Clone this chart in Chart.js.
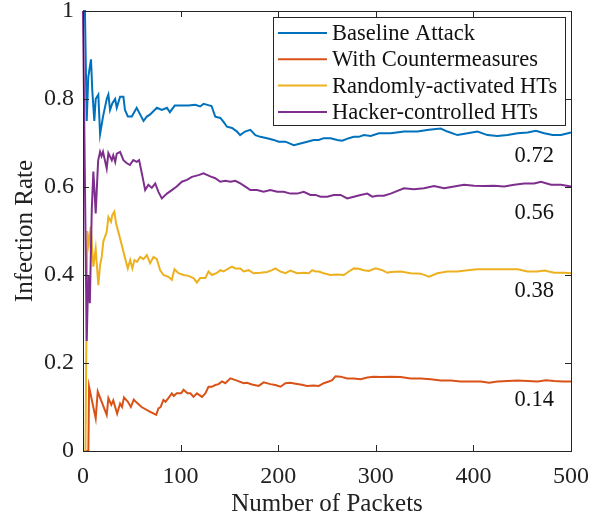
<!DOCTYPE html>
<html>
<head>
<meta charset="utf-8">
<title>Infection Rate vs Number of Packets</title>
<script src="https://cdn.jsdelivr.net/npm/chart.js@4"></script>
<style>
  html, body { margin: 0; padding: 0; background: #fff; }
  #wrap { width: 603px; height: 519px; }
</style>
</head>
<body>
<div id="wrap"><canvas id="rateChart"></canvas></div>
<script>
// Infection rate over packets for four scenarios
const SERIES_NAMES = ["Baseline Attack", "With Countermeasures", "Randomly-activated HTs", "Hacker-controlled HTs"];
const SERIES_COLORS = ["#0072BD", "#D95319", "#EDB120", "#7E2F8E"];

const baselineX = [0,2,3.8,5.4,8.2,9.5,11.6,13,15.7,17.5, 20.5,24.3,26,27.7,30,32.9,34.6,38,41.4,43,
  46,50,55,58.5,62,65.4,68.8,75.7,80.8,86, 89,94,101,108,115,120,123.5,128.3,131.7,135.5,
  140.7,144,147.5,152.7,157.8,161,166,171.5,176.6,181.7, 188.6,195.4,200.5,207.4,216,222.8,229.7,236.4,241.6,246.7,
  253.6,260.5,265.6,272.4,277.5,282.6,287.8,294.7,303.2,315.2, 329,342.6,354.5,366.5,373.4,383.7,394,404.2,414.4,424.7,
  435,445.3,455.5,464,472.6,481.2,489.7,500];
const baselineY = [1,1,0.75,0.85,0.89,0.82,0.75,0.80,0.81,0.72, 0.76,0.80,0.81,0.775,0.79,0.80,0.78,0.805,0.805,0.775,
  0.76,0.76,0.78,0.765,0.75,0.76,0.765,0.78,0.775,0.78, 0.77,0.785,0.785,0.785,0.787,0.783,0.789,0.786,0.784,0.76,
  0.757,0.748,0.737,0.734,0.726,0.718,0.726,0.73,0.718,0.714, 0.711,0.707,0.703,0.703,0.695,0.699,0.703,0.707,0.707,0.711,
  0.711,0.707,0.705,0.711,0.714,0.714,0.718,0.716,0.722,0.722, 0.726,0.726,0.73,0.733,0.726,0.718,0.722,0.726,0.718,0.716,
  0.718,0.722,0.724,0.728,0.722,0.718,0.718,0.724];

const counterX = [0,5.5,6.2,13,15.1,24.3,26,29,31, 35,38,40,42,46,49,52,55,60,68,
  75,77.3,79.5,82.4,84.5,87.5,91,93,96,100.6, 103,107,110,113.2,116.7,121.9,125.3,128.6,132.1,135.5,
  138.9,142.4,145.8,151,157.8,164.6,168,173.2,180,185.1, 192,197.1,202.3,207.4,212.5,217.7,222.8,229.7,236.4,241.6,
  246.7,251.8,255.3,258.7,263.9,270.7,277.5,284.4,291.3,298, 305,315.2,325.5,335.7,346,356.3,366.5,376.8,387,397.3,
  407.6,416.1,424.7,435,445.3,455.5,465.8,474.3,482.9,491.5, 500];
const counterY = [0,0,0.146,0.074,0.135,0.082,0.12,0.105,0.115, 0.085,0.108,0.10,0.122,0.112,0.10,0.117,0.11,0.10,0.09,
  0.082,0.097,0.10,0.116,0.112,0.12,0.131,0.125,0.131,0.131, 0.139,0.131,0.131,0.123,0.131,0.123,0.131,0.146,0.146,0.15,
  0.152,0.158,0.154,0.165,0.16,0.154,0.155,0.151,0.148,0.156, 0.152,0.15,0.146,0.154,0.155,0.153,0.151,0.148,0.149,0.148,
  0.154,0.158,0.161,0.17,0.169,0.165,0.165,0.163,0.167,0.169, 0.168,0.169,0.168,0.165,0.165,0.163,0.16,0.16,0.158,0.158,
  0.158,0.155,0.158,0.159,0.16,0.159,0.158,0.161,0.159,0.158, 0.158];

const randomX = [0,2.5,4.4,6,8,10.6,13,15.7,17.5,19.2, 20.8,24.3,26,28.7,30,32.1,33.9,36.2,39.7,43.1,
  45.9,48.3,50.6,52.7,55.4,58.5,61.9,65.4,68.8,72.2, 75.7,79,82.4,87.6,91,93.7,97.8,103,108,113.2,
  116.7,120,125.3,128.6,132.1,137.3,140.7,144,149.2,152.7, 156,161.2,164.6,169.7,174.8,181.7,188.6,193.7,197.1,202.3,
  207.4,212.5,219.4,226.2,231.4,234.8,238.2,241.6,246.7,253.6, 260.5,267.2,272.4,277.5,282.6,287.8,292.9,299.8,306.7,311.8,
  315.2,325.5,335.7,346,354.5,363.1,373.4,383.7,394,404.2, 414.5,424.7,435,445.3,455.5,465.8,472.6,482.9,493.1,500];
const randomY = [0,0,0.50,0.47,0.51,0.419,0.46,0.377,0.423,0.441, 0.476,0.498,0.532,0.521,0.536,0.544,0.517,0.498,0.468,0.438,
  0.415,0.434,0.415,0.434,0.43,0.441,0.436,0.445,0.427,0.441, 0.436,0.411,0.40,0.396,0.389,0.413,0.404,0.40,0.398,0.393,
  0.383,0.393,0.393,0.408,0.40,0.405,0.411,0.408,0.415,0.419, 0.415,0.415,0.408,0.411,0.404,0.405,0.407,0.411,0.415,0.408,
  0.404,0.41,0.404,0.405,0.404,0.411,0.408,0.408,0.404,0.40, 0.401,0.40,0.408,0.415,0.414,0.411,0.409,0.415,0.411,0.405,
  0.407,0.408,0.404,0.403,0.396,0.404,0.408,0.408,0.411,0.413, 0.413,0.413,0.413,0.413,0.408,0.408,0.41,0.405,0.405,0.404];

const hackerX = [0,1,3.8,5.4,7,9,10.6,12.3,13,15.5, 17.5,19,20.5,22,24.3,26,29.5,31,33,34.6,
  38,41.4,45,48,51.5,55,57.5,60.3,63.7,67, 70.5,74,77.3,80.8,86,91,96,101.3,106.5,111.6,
  118.4,123.5,130.4,135.5,140.7,145.8,151,156,161.2,166.3, 171.5,178.3,185.1,192,198.9,205.6,212.5,219.4,226.2,233,
  238.2,243.3,250.2,257,263.9,270.7,277.5,284.4,291.3,296.4, 301.5,308.3,315.2,328.8,339,349.4,359.7,370,380.2,390.5,
  400.7,411,421.3,431.5,441.8,452,462.3,469.2,479.5,489.7, 500];
const hackerY = [1,1,0.25,0.40,0.336,0.55,0.635,0.57,0.54,0.66, 0.68,0.67,0.68,0.665,0.642,0.677,0.661,0.672,0.657,0.676,
  0.68,0.661,0.654,0.65,0.661,0.657,0.661,0.631,0.593,0.605, 0.598,0.608,0.589,0.574,0.585,0.593,0.601,0.612,0.616,0.623,
  0.627,0.631,0.624,0.62,0.612,0.614,0.612,0.614,0.608,0.601, 0.593,0.593,0.589,0.593,0.589,0.589,0.585,0.585,0.589,0.582,
  0.582,0.578,0.578,0.582,0.582,0.574,0.578,0.582,0.585,0.578, 0.58,0.58,0.585,0.597,0.595,0.597,0.602,0.597,0.601,0.605,
  0.603,0.602,0.603,0.601,0.605,0.608,0.608,0.612,0.605,0.605, 0.601];

// text labels written inside the axes
const noteText = ["0.72", "0.56", "0.38", "0.14"];
const noteX = [482.5, 482.5, 482.5, 482.5];
const noteY = [0.67, 0.541, 0.364, 0.116];

const xTicks = [0, 100, 200, 300, 400, 500];
const yTicks = [0, 0.2, 0.4, 0.6, 0.8, 1];

const FONT = "'Liberation Serif', 'Times New Roman', serif";
const AXIS_COLOR = "#262626";
const TICK_LEN = 6;

const toPts = (xs, ys) => xs.map((x, i) => ({x: x, y: ys[i]}));
const seriesData = [toPts(baselineX, baselineY), toPts(counterX, counterY), toPts(randomX, randomY), toPts(hackerX, hackerY)];

// box round the axes, inward ticks, and the value notes
const frame = {
  id: "frame",
  afterDatasetsDraw(chart) {
    const {ctx, chartArea: a, scales: {x, y}} = chart;
    ctx.save();
    ctx.strokeStyle = AXIS_COLOR;
    ctx.lineWidth = 1;
    ctx.beginPath();
    xTicks.forEach(v => {
      const px = Math.round(x.getPixelForValue(v)) + 0.5;
      ctx.moveTo(px, a.bottom); ctx.lineTo(px, a.bottom - TICK_LEN);
      ctx.moveTo(px, a.top); ctx.lineTo(px, a.top + TICK_LEN);
    });
    yTicks.forEach(v => {
      const py = Math.round(y.getPixelForValue(v)) + 0.5;
      ctx.moveTo(a.left, py); ctx.lineTo(a.left + TICK_LEN, py);
      ctx.moveTo(a.right, py); ctx.lineTo(a.right - TICK_LEN, py);
    });
    ctx.stroke();
    ctx.strokeRect(Math.round(a.left) + 0.5, Math.round(a.top) + 0.5, Math.round(a.right - a.left), Math.round(a.bottom - a.top));

    ctx.fillStyle = "#111";
    ctx.font = "22.5px " + FONT;
    ctx.textAlign = "right";
    ctx.textBaseline = "middle";
    noteText.forEach((t, i) => ctx.fillText(t, x.getPixelForValue(noteX[i]), y.getPixelForValue(noteY[i])));
    ctx.restore();
  }
};

// MATLAB-like legend box in the top right corner
const legendBox = {
  id: "legendBox",
  afterDraw(chart) {
    const {ctx, chartArea: a} = chart;
    const left = Math.round(a.right) - 298, top = Math.round(a.top) + 6, w = 292, h = 108;
    ctx.save();
    ctx.fillStyle = "#fff";
    ctx.fillRect(left, top, w, h);
    ctx.strokeStyle = AXIS_COLOR;
    ctx.lineWidth = 1;
    ctx.strokeRect(left + 0.5, top + 0.5, w, h);
    ctx.font = "22.5px " + FONT;
    ctx.textBaseline = "middle";
    ctx.textAlign = "left";
    chart.data.datasets.forEach((ds, i) => {
      const cy = top + 16 + i * 26.3;
      ctx.strokeStyle = ds.borderColor;
      ctx.lineWidth = 2;
      ctx.beginPath();
      ctx.moveTo(left + 5, cy); ctx.lineTo(left + 54, cy);
      ctx.stroke();
      ctx.fillStyle = "#111";
      ctx.fillText(ds.label, left + 59, cy + 1);
    });
    ctx.restore();
  }
};

const ctx = document.getElementById("rateChart").getContext("2d");
new Chart(ctx, {
  type: "line",
  data: {
    datasets: SERIES_NAMES.map((name, i) => ({
      label: name,
      data: seriesData[i],
      borderColor: SERIES_COLORS[i],
      backgroundColor: SERIES_COLORS[i],
      borderWidth: 2,
      pointRadius: 0,
      tension: 0,
      fill: false,
      clip: 3,
      order: 4 - i
    }))
  },
  options: {
    responsive: true,
    maintainAspectRatio: false,
    animation: false,
    layout: { padding: { top: 11, right: 32, bottom: 0, left: 0 } },
    plugins: { legend: { display: false }, tooltip: { enabled: false } },
    scales: {
      x: {
        type: "linear",
        min: 0, max: 500,
        afterBuildTicks: s => { s.ticks = xTicks.map(v => ({value: v})); },
        afterFit: s => { s.height = 68; s.paddingLeft = 0; s.paddingRight = 0; },
        grid: { display: false, drawTicks: false },
        border: { display: false },
        ticks: { padding: 11, color: "#222", font: { family: FONT, size: 24 }, maxRotation: 0 },
        title: { display: true, text: "Number of Packets", color: "#222", font: { family: FONT, size: 25, lineHeight: 1.1 }, padding: { top: 0, bottom: 1 } }
      },
      y: {
        min: 0, max: 1,
        afterBuildTicks: s => { s.ticks = yTicks.map(v => ({value: v})); },
        afterFit: s => { s.width = 83; s.paddingTop = 0; s.paddingBottom = 0; },
        grid: { display: false, drawTicks: false },
        border: { display: false },
        ticks: { padding: 9, color: "#222", font: { family: FONT, size: 24 }, callback: v => String(+v.toFixed(1)) },
        title: { display: true, text: "Infection Rate", color: "#222", font: { family: FONT, size: 25 }, padding: { top: 10, bottom: 0 } }
      }
    }
  },
  plugins: [frame, legendBox]
});
</script>
</body>
</html>
